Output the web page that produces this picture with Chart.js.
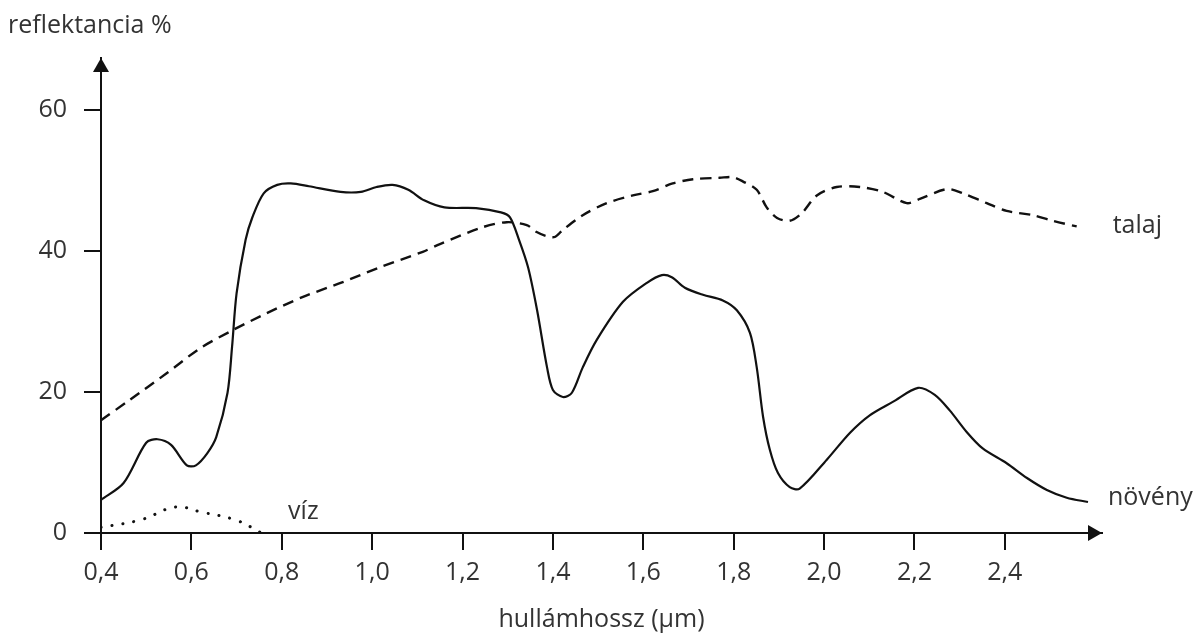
<!DOCTYPE html>
<html>
<head>
<meta charset="utf-8">
<script src="https://cdn.jsdelivr.net/npm/chart.js@4"></script>
<style>
  html, body { margin: 0; padding: 0; background: #fff; }
  #wrap { width: 1195px; height: 635px; }
</style>
</head>
<body>
<div id="wrap"><canvas id="chart"></canvas></div>
<script>
// wavelength (µm) / reflectance (%)
const vegX = [0.40, 0.45, 0.50, 0.525, 0.555, 0.59, 0.61, 0.635, 0.655, 0.68, 0.69, 0.70, 0.72, 0.735, 0.76, 0.79, 0.82, 0.86, 0.93, 0.975, 1.01, 1.045, 1.08, 1.115, 1.16, 1.23, 1.285, 1.305, 1.325, 1.345, 1.365, 1.387, 1.40, 1.422, 1.442, 1.466, 1.497, 1.555, 1.608, 1.641, 1.663, 1.692, 1.732, 1.776, 1.807, 1.836, 1.851, 1.865, 1.88, 1.898, 1.924, 1.946, 2.006, 2.057, 2.101, 2.152, 2.208, 2.245, 2.278, 2.316, 2.351, 2.404, 2.449, 2.493, 2.537, 2.584];
const vegY = [4.7, 7.1, 12.8, 13.3, 12.5, 9.6, 9.6, 11.3, 13.6, 19.9, 26.4, 34.0, 41.6, 44.8, 48.2, 49.4, 49.6, 49.2, 48.4, 48.4, 49.1, 49.4, 48.7, 47.2, 46.2, 46.1, 45.5, 44.8, 41.6, 37.7, 31.6, 23.5, 20.3, 19.3, 19.9, 23.5, 27.4, 32.8, 35.5, 36.6, 36.3, 34.8, 33.8, 33.0, 31.6, 28.4, 23.5, 16.5, 11.8, 8.5, 6.5, 6.3, 10.4, 14.2, 16.7, 18.6, 20.6, 19.6, 17.4, 14.3, 12.0, 9.9, 7.8, 6.1, 5.0, 4.4];

const soilX = [0.40, 0.464, 0.546, 0.619, 0.692, 0.767, 0.847, 0.935, 1.017, 1.112, 1.15, 1.245, 1.298, 1.342, 1.364, 1.387, 1.404, 1.422, 1.466, 1.519, 1.577, 1.621, 1.665, 1.71, 1.769, 1.798, 1.82, 1.851, 1.873, 1.896, 1.924, 1.951, 1.984, 2.028, 2.079, 2.13, 2.183, 2.212, 2.272, 2.307, 2.36, 2.404, 2.462, 2.506, 2.559];
const soilY = [16.0, 18.9, 22.7, 26.2, 28.8, 31.2, 33.5, 35.6, 37.7, 39.9, 41.0, 43.4, 44.1, 43.7, 42.7, 42.1, 42.0, 43.0, 45.1, 46.8, 47.9, 48.5, 49.6, 50.2, 50.4, 50.5, 49.9, 48.7, 46.2, 44.7, 44.3, 45.4, 47.9, 49.1, 49.1, 48.4, 46.8, 47.4, 48.8, 48.2, 46.8, 45.7, 45.1, 44.3, 43.5];

const waterX = [0.40, 0.49, 0.565, 0.62, 0.70, 0.755];
const waterY = [0.8, 1.9, 3.7, 3.0, 1.8, 0.0];

const xTicks = [0.4, 0.6, 0.8, 1.0, 1.2, 1.4, 1.6, 1.8, 2.0, 2.2, 2.4];
const yTicks = [0, 20, 40, 60];

const ink = '#111';
const textColor = '#333';
const fontFamily = '"Open Sans", "Noto Sans", sans-serif';
const fontSize = 25;

const toPoints = (xs, ys) => xs.map((x, i) => ({ x, y: ys[i] }));

// arrows on the axes and the free text labels
const decorations = {
    id: 'decorations',
    afterDraw(chart) {
        const { ctx, chartArea: a, scales } = chart;
        const xs = scales.x, ys = scales.y;
        ctx.save();
        ctx.fillStyle = ink;
        // y arrow
        ctx.beginPath();
        ctx.moveTo(a.left, a.top);
        ctx.lineTo(a.left - 8, a.top + 14);
        ctx.lineTo(a.left + 8, a.top + 14);
        ctx.closePath();
        ctx.fill();
        // x arrow
        ctx.beginPath();
        ctx.moveTo(a.right, a.bottom);
        ctx.lineTo(a.right - 14, a.bottom - 8);
        ctx.lineTo(a.right - 14, a.bottom + 8);
        ctx.closePath();
        ctx.fill();

        ctx.fillStyle = textColor;
        ctx.font = fontSize + 'px ' + fontFamily;
        ctx.textBaseline = 'middle';
        ctx.textAlign = 'left';
        ctx.fillText('reflektancia %', 8, 26);

        const lastSoil = soilX.length - 1;
        ctx.fillText('talaj', xs.getPixelForValue(soilX[lastSoil]) + 36, ys.getPixelForValue(soilY[lastSoil]) - 1);
        const lastVeg = vegX.length - 1;
        ctx.fillText('növény', xs.getPixelForValue(vegX[lastVeg]) + 20, ys.getPixelForValue(vegY[lastVeg]) - 4);
        ctx.fillText('víz', xs.getPixelForValue(0.814), ys.getPixelForValue(3.0));
        ctx.restore();
    }
};

new Chart(document.getElementById('chart'), {
    type: 'line',
    data: {
        datasets: [
            {
                label: 'növény',
                data: toPoints(vegX, vegY),
                borderColor: ink,
                borderWidth: 2.2,
                tension: 0.3
            },
            {
                label: 'talaj',
                data: toPoints(soilX, soilY),
                borderColor: ink,
                borderWidth: 2.4,
                borderDash: [11, 7],
                tension: 0.3
            },
            {
                label: 'víz',
                data: toPoints(waterX, waterY),
                borderColor: ink,
                borderWidth: 3,
                borderDash: [0.1, 11],
                borderCapStyle: 'round',
                tension: 0.4
            }
        ]
    },
    options: {
        responsive: true,
        maintainAspectRatio: false,
        animation: false,
        events: [],
        elements: { point: { radius: 0 } },
        layout: { padding: { left: 0, right: 93, top: 58, bottom: 0 } },
        plugins: {
            legend: { display: false },
            tooltip: { enabled: false }
        },
        scales: {
            x: {
                type: 'linear',
                min: 0.4,
                max: 2.615,
                afterBuildTicks: axis => { axis.ticks = xTicks.map(v => ({ value: v })); },
                afterFit: axis => { axis.height = 102; },
                ticks: {
                    color: textColor,
                    font: { size: fontSize, family: fontFamily },
                    padding: 8,
                    maxRotation: 0,
                    autoSkip: false,
                    callback: v => v.toFixed(1).replace('.', ',')
                },
                grid: { drawOnChartArea: false, tickLength: 17, color: ink, lineWidth: 2 },
                border: { display: true, color: ink, width: 2 },
                title: {
                    display: true,
                    text: 'hullámhossz (µm)',
                    color: textColor,
                    font: { size: fontSize, family: fontFamily },
                    padding: { top: 0, bottom: 0 }
                }
            },
            y: {
                type: 'linear',
                min: 0,
                max: 67.4,
                afterBuildTicks: axis => { axis.ticks = yTicks.map(v => ({ value: v })); },
                afterFit: axis => { axis.width = 101; },
                ticks: {
                    color: textColor,
                    font: { size: fontSize, family: fontFamily },
                    padding: 17
                },
                grid: { drawOnChartArea: false, tickLength: 17, color: ink, lineWidth: 2 },
                border: { display: true, color: ink, width: 2 }
            }
        }
    },
    plugins: [decorations]
});
</script>
</body>
</html>
